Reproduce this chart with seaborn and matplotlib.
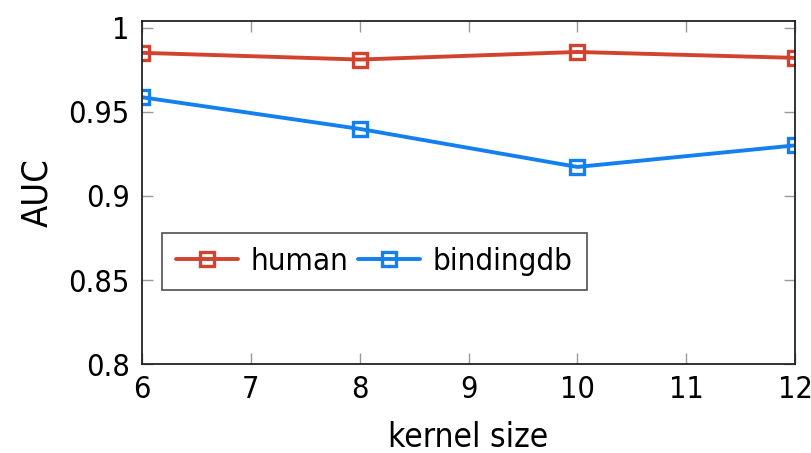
import numpy as np
import pandas as pd
import seaborn as sns
import matplotlib.pyplot as plt

kernel_sizes = [6, 8, 10, 12]
human_auc = [0.985, 0.981, 0.9855, 0.982]
bindingdb_auc = [0.9586, 0.9398, 0.9172, 0.930]
series_names = ["human", "bindingdb"]
colors = {"human": "#d2432f", "bindingdb": "#1480f0"}

df = pd.DataFrame({
    "kernel size": kernel_sizes * 2,
    "AUC": human_auc + bindingdb_auc,
    "dataset": ["human"] * 4 + ["bindingdb"] * 4,
})

sns.set_style("ticks")
plt.rcParams['font.family'] = ['DejaVu Sans']
plt.rcParams['font.stretch'] = 'condensed'
plt.rcParams['text.color'] = 'black'
plt.rcParams['axes.labelcolor'] = 'black'
plt.rcParams['xtick.labelcolor'] = 'black'
plt.rcParams['ytick.labelcolor'] = 'black'

fig = plt.figure(figsize=(8.12, 4.53), dpi=100)
ax = fig.add_axes([0.175, 0.196, 0.804, 0.758])
sns.lineplot(data=df, x="kernel size", y="AUC", hue="dataset", hue_order=series_names,
             palette=colors, marker="s", markersize=10, markerfacecolor="none",
             markeredgewidth=2.4, linewidth=2.8, ax=ax, legend=False)
# open square markers need edge colors per line
for line, name in zip(ax.get_lines(), series_names):
    line.set_markeredgecolor(colors[name])
    line.set_label(name)

ax.set_xlim(6, 12)
ax.set_ylim(0.8, 1.004)
ax.set_xticks(range(6, 13))
ax.set_yticks([0.8, 0.85, 0.9, 0.95, 1.0])
ax.set_yticklabels(["0.8", "0.85", "0.9", "0.95", "1"])
ax.tick_params(direction="in", length=8, width=1, color="#999999", labelsize=22,
               top=True, right=True)
ax.tick_params(axis="x", pad=8)
ax.tick_params(axis="y", pad=9)
for s in ax.spines.values():
    s.set_color("#222222")
    s.set_linewidth(1.3)
ax.set_xlabel("kernel size", fontsize=24, labelpad=12)
ax.set_ylabel("AUC", fontsize=26, labelpad=10)

leg = ax.legend(ncol=2, loc="lower left", bbox_to_anchor=(0.03, 0.215), fontsize=22.5,
                frameon=True, fancybox=False, edgecolor="#222222", handlelength=2.0,
                columnspacing=0.3, handletextpad=0.4, borderpad=0.45, borderaxespad=0)
leg.get_frame().set_linewidth(1.2)

fig.savefig("out.png", dpi=100)
